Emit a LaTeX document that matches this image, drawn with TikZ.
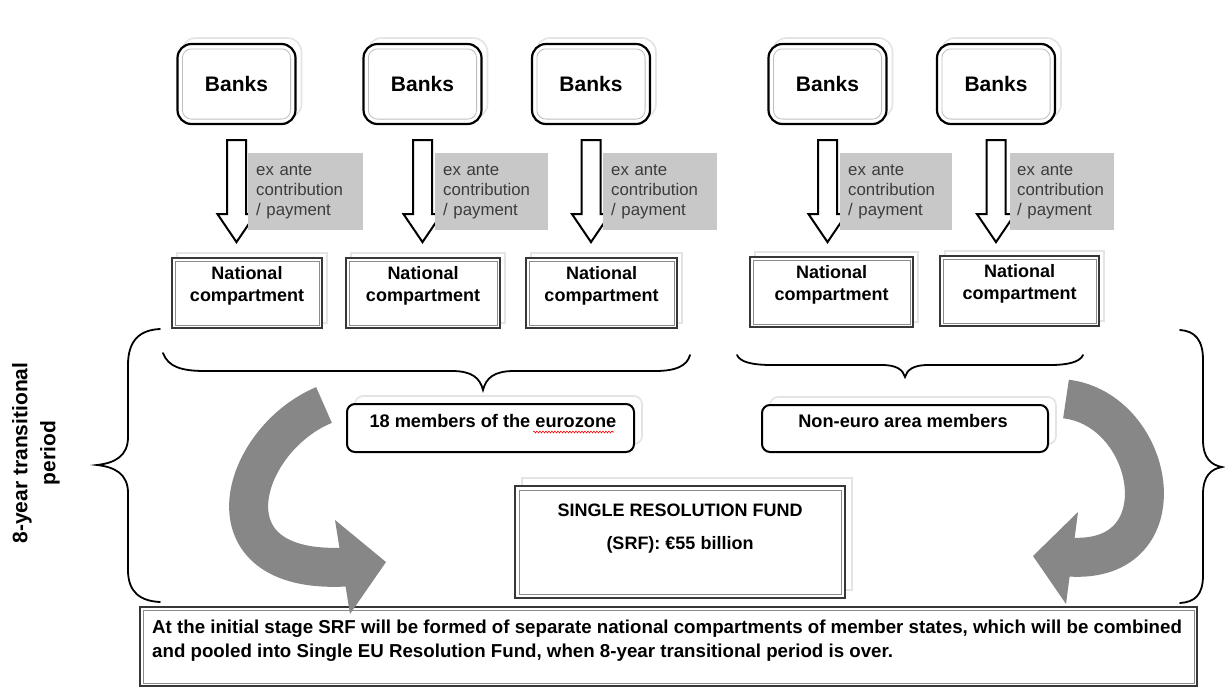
\documentclass[tikz,border=0pt]{standalone}
\usepackage{fontspec}
\setmainfont{Liberation Sans}
\usetikzlibrary{decorations.pathmorphing,calc}
\definecolor{lblgray}{RGB}{200,200,200}
\definecolor{arrgray}{RGB}{135,135,135}
\definecolor{shadowgray}{RGB}{228,228,228}
\definecolor{boxline}{RGB}{55,55,55}
\definecolor{lbltext}{RGB}{60,60,60}
\begin{document}
\begin{tikzpicture}[x=1pt,y=-1pt,
  bankbox/.style={draw=black, line width=2.2pt, rounded corners=14pt, minimum width=118pt, minimum height=80pt, fill=white, font=\fontsize{21}{24}\selectfont\bfseries, inner sep=0pt},
  bankinner/.style={draw=black!25, line width=0.8pt, rounded corners=9pt},
  blockarrow/.style={draw=black, line width=2pt, fill=white, line join=miter},
  lbl/.style={fill=lblgray, inner xsep=8pt, inner ysep=0pt, minimum height=77pt, align=left, text=lbltext, font=\fontsize{16.8}{20}\selectfont, anchor=north west},
  natbox/.style={draw=boxline, line width=1.8pt, fill=white, minimum height=70pt, inner sep=0pt},
  natinner/.style={draw=black!45, line width=0.7pt},
  nattext/.style={align=center, font=\fontsize{18}{22}\selectfont\bfseries},
  shadowbox/.style={draw=shadowgray, line width=1.6pt},
  brace/.style={draw=black, line width=1.8pt, line cap=round},
  membox/.style={draw=black, line width=2pt, rounded corners=8pt, fill=white, inner sep=0pt},
  memtext/.style={font=\fontsize{18.2}{21}\selectfont\bfseries},
  curvedband/.style={draw=arrgray, line width=39pt},
]
\fill[white] (0,0) rectangle (1225,686);
\useasboundingbox (0,0) rectangle (1225,686);

% Banks boxes
\foreach \i/\x in {1/236.5,2/422.5,3/591,4/827.5,5/996}{
  \draw[shadowbox, rounded corners=14pt] (\x-55,38) rectangle (\x+65,118);
  \node[bankbox] (b\i) at (\x,84) {Banks};
  \draw[bankinner] ([shift={(6,6)}]b\i.north west) rectangle ([shift={(-6,-6)}]b\i.south east);
  \draw[blockarrow] ([xshift=-9.5pt,yshift=-15pt]b\i.south) -- ++(19,0) -- ++(0,74) -- ++(9.5,0) -- ++(-19,28) -- ++(-19,-28) -- ++(9.5,0) -- cycle;
}

% grey labels
\node[lbl, minimum width=115pt, text width=99pt] (l1) at (248,153) {ex ante\\contribution\\/ payment};
\node[lbl, minimum width=113pt, text width=97pt] (l2) at (435,153) {ex ante\\contribution\\/ payment};
\node[lbl, minimum width=114pt, text width=98pt] (l3) at (603,153) {ex ante\\contribution\\/ payment};
\node[lbl, minimum width=112pt, text width=96pt] (l4) at (840,153) {ex ante\\contribution\\/ payment};
\node[lbl, minimum width=104pt, text width=90pt, inner xsep=7pt] (l5) at (1010,153) {ex ante\\contribution\\/ payment};

% National compartments
\foreach \i/\x/\y/\w in {1/247/293/150,2/423/293/154,3/601.5/293/151,4/831.5/292/163,5/1019.5/291/159}{
  \draw[shadowbox] (\x-\w/2+5,\y-40) rectangle (\x+\w/2+5,\y+30);
  \node[natbox, minimum width=\w pt] (n\i) at (\x,\y) {};
  \draw[natinner] ([shift={(4,4)}]n\i.north west) rectangle ([shift={(-4,-4)}]n\i.south east);
  \node[nattext] (nt\i) at ([yshift=7pt]n\i.center) {National\\compartment};
}

% horizontal braces
\draw[brace] (163,353) .. controls (168,367) and (182,371) .. (205,371) -- (452,371) .. controls (472,371) and (480,378) .. (483,390) .. controls (486,378) and (494,371) .. (514,371) -- (655,371) .. controls (676,371) and (687,366) .. (690,355);
\draw[brace] (737,355) .. controls (740,362) and (752,365) .. (772,365) -- (882,365) .. controls (897,365) and (903,370) .. (905,377) .. controls (907,370) and (913,365) .. (928,365) -- (1050,365) .. controls (1068,365) and (1080,362) .. (1083,355);

% vertical braces
\draw[brace] (160,329) .. controls (140,330) and (128,340) .. (128,365) -- (128,437) .. controls (128,456) and (115,463) .. (97,465) .. controls (115,467) and (128,474) .. (128,493) -- (128,570) .. controls (128,592) and (140,601) .. (160,602);
\draw[brace] (1180,330) .. controls (1195,331) and (1203,340) .. (1203,360) -- (1203,440) .. controls (1203,458) and (1211,465) .. (1222,467) .. controls (1211,469) and (1203,476) .. (1203,494) -- (1203,575) .. controls (1203,595) and (1195,602) .. (1180,603);

% side text
\node[rotate=90, align=center, font=\fontsize{21}{28}\selectfont\bfseries] (period) at (36,453) {8-year transitional\\period};

% member boxes
\draw[shadowbox, rounded corners=8pt] (355,396) rectangle (642,444);
\node[membox, minimum width=287pt, minimum height=48pt] (euro) at (490.5,428) {};
\node[memtext, anchor=west] (eurot) at (366,421) {18 members of the eurozone};
\draw[red, line width=0.6pt, decorate, decoration={snake, amplitude=0.9pt, segment length=3pt}] (533,432) -- (614,432);

\draw[shadowbox, rounded corners=8pt] (770,397) rectangle (1056,444);
\node[membox, minimum width=286pt, minimum height=47pt] (noneuro) at (905,428.5) {};
\node[memtext] (noneurot) at (903,421) {Non-euro area members};

% SRF box
\draw[shadowbox] (522,478) rectangle (852,590);
\node[natbox, minimum width=330pt, minimum height=112pt] (srf) at (680,542) {};
\draw[natinner] ([shift={(5,5)}]srf.north west) rectangle ([shift={(-5,-5)}]srf.south east);
\node[align=center, font=\fontsize{18}{33}\selectfont\bfseries] (srft) at (680,528.5) {SINGLE RESOLUTION FUND\\(SRF): €55 billion};

% bottom box
\node[natbox, minimum width=1057pt, minimum height=79pt] (bottom) at (668.5,646.5) {};
\draw[natinner] ([shift={(4,4)}]bottom.north west) rectangle ([shift={(-4,-4)}]bottom.south east);
\node[anchor=north west, align=left, inner sep=0pt, font=\fontsize{18.7}{24}\selectfont\bfseries] (bottomt) at (152,620) {At the initial stage SRF will be formed of separate national compartments of member states, which will be combined\\and pooled into Single EU Resolution Fund, when 8-year transitional period is over.};

% curved grey arrows
\draw[curvedband] (324,405) .. controls (240,440) and (200,575) .. (346,567);
\fill[arrgray] (335,520) -- (386,562) -- (350,614) -- cycle;
\draw[curvedband] (1066,399) .. controls (1156,410) and (1183,565) .. (1069,557);
\fill[arrgray] (1078,512) -- (1033,556) -- (1066,604) -- cycle;
\end{tikzpicture}
\end{document}
